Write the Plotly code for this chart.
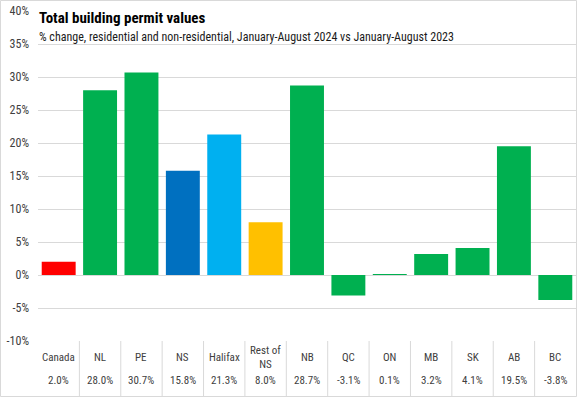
import plotly.graph_objects as go

categories = ["Canada", "NL", "PE", "NS", "Halifax", "Rest of<br>NS", "NB", "QC", "ON", "MB", "SK", "AB", "BC"]
values = [2.0, 28.0, 30.7, 15.8, 21.3, 8.0, 28.7, -3.1, 0.1, 3.2, 4.1, 19.5, -3.8]
bar_colors = ["#FF0000", "#00B050", "#00B050", "#0070C0", "#00B0F0", "#FFC000",
              "#00B050", "#00B050", "#00B050", "#00B050", "#00B050", "#00B050", "#00B050"]
tick_vals = [-10, -5, 0, 5, 10, 15, 20, 25, 30, 35, 40]
tick_text = [f"{v}%" for v in tick_vals]

W, H = 577, 397
ML, MR, MT, MB = 38, 1, 11, 56
PW, PH = W - ML - MR, H - MT - MB
FONT = "Liberation Sans Narrow, Roboto Condensed, Roboto, sans-serif"
TXT = "#404040"

x = list(range(len(categories)))
fig = go.Figure(go.Bar(x=x, y=values, marker_color=bar_colors, marker_line_width=0,
                       hoverinfo="skip"))

shapes = []
annotations = []
# table rows
for i, (c, v) in enumerate(zip(categories, values)):
    annotations.append(dict(x=i, y=-16 / PH, xref="x", yref="paper", text=c,
                            showarrow=False, yanchor="middle",
                            font=dict(size=11, color=TXT, family=FONT)))
    annotations.append(dict(x=i, y=-39 / PH, xref="x", yref="paper", text=f"{v:.1f}%",
                            showarrow=False, yanchor="middle",
                            font=dict(size=11, color=TXT, family=FONT)))
    if i > 0:
        shapes.append(dict(type="line", xref="x", yref="paper", x0=i - 0.5, x1=i - 0.5,
                           y0=0, y1=-MB / PH, line=dict(color="#D9D9D9", width=1)))

# chart border
shapes.append(dict(type="rect", xref="paper", yref="paper",
                   x0=-(ML - 0.5) / PW, x1=(PW + MR - 0.5) / PW,
                   y0=-(MB - 0.5) / PH, y1=(PH + MT - 0.5) / PH,
                   line=dict(color="#D9D9D9", width=1)))

annotations.append(dict(x=-1 / PW, y=(PH - 7) / PH, xref="paper", yref="paper",
                        text="<b>Total building permit values</b>", showarrow=False,
                        xanchor="left", yanchor="middle",
                        font=dict(size=15, color="#000000", family=FONT)))
annotations.append(dict(x=-1 / PW, y=(PH - 26) / PH, xref="paper", yref="paper",
                        text="% change, residential and non-residential, January-August 2024 vs January-August 2023",
                        showarrow=False, xanchor="left", yanchor="middle",
                        font=dict(size=12, color="#1a1a1a", family=FONT)))

fig.update_layout(
    width=W, height=H,
    margin=dict(l=ML, r=MR, t=MT, b=MB),
    paper_bgcolor="white", plot_bgcolor="white",
    bargap=0.18, showlegend=False,
    shapes=shapes, annotations=annotations,
    xaxis=dict(range=[-0.5, len(categories) - 0.5], showticklabels=False,
               showgrid=False, zeroline=False, fixedrange=True),
    yaxis=dict(range=[-10, 40], tickvals=tick_vals, ticktext=tick_text,
               showgrid=True, gridcolor="#D9D9D9", gridwidth=1, zeroline=False,
               tickfont=dict(size=12, color=TXT, family=FONT), ticks="",
               ticklabelstandoff=8, fixedrange=True),
    font=dict(family=FONT),
)

fig.write_html("out.html", config={"displayModeBar": False},
               post_script="document.body.style.margin='0';document.body.style.overflow='hidden';")
